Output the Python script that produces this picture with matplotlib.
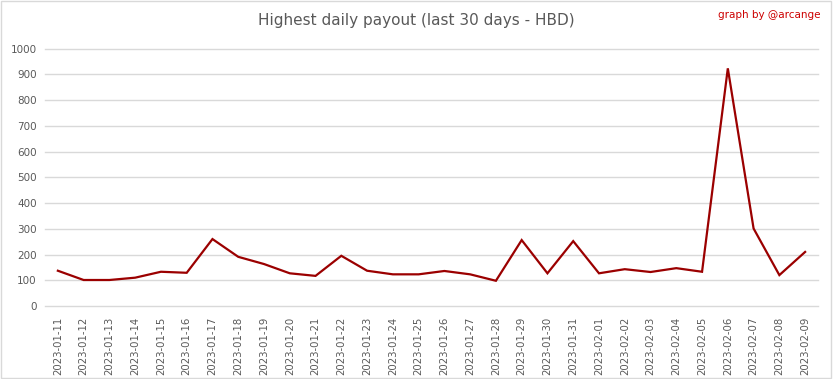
import matplotlib.pyplot as plt
from matplotlib.patches import Rectangle

# daily highest payout
dates = ['2023-01-11', '2023-01-12', '2023-01-13', '2023-01-14', '2023-01-15',
         '2023-01-16', '2023-01-17', '2023-01-18', '2023-01-19', '2023-01-20',
         '2023-01-21', '2023-01-22', '2023-01-23', '2023-01-24', '2023-01-25',
         '2023-01-26', '2023-01-27', '2023-01-28', '2023-01-29', '2023-01-30',
         '2023-01-31', '2023-02-01', '2023-02-02', '2023-02-03', '2023-02-04',
         '2023-02-05', '2023-02-06', '2023-02-07', '2023-02-08', '2023-02-09']
payout = [137, 101, 101, 110, 133, 129, 260, 191, 163, 127,
          117, 195, 137, 123, 123, 136, 123, 98, 256, 127,
          252, 127, 143, 132, 147, 133, 923, 301, 120, 210]
yticks = list(range(0, 1001, 100))

grey = '#595959'

fig = plt.figure(figsize=(8.33, 3.79), dpi=100)
ax = fig.add_axes([0.054, 0.1926, 0.928, 0.6794])

x = list(range(len(dates)))
ax.plot(x, payout, color='#9b0000', linewidth=1.6, solid_joinstyle='miter', zorder=3)

ax.set_xlim(-0.5, len(dates) - 0.5)
ax.set_ylim(0, 1000)
ax.set_yticks(yticks)
ax.set_yticklabels([str(v) for v in yticks], fontsize=7.5, color=grey)
ax.set_xticks(x)
ax.set_xticklabels(dates, rotation=90, fontsize=7.3, color=grey)
ax.tick_params(axis='both', length=0, pad=6)
ax.tick_params(axis='x', pad=8)

ax.grid(axis='y', color='#d9d9d9', linewidth=1)
for gl in ax.get_ygridlines():
    gl.set_clip_on(False)
ax.set_axisbelow(True)
for s in ax.spines.values():
    s.set_visible(False)

fig.text(0.5, 0.945, 'Highest daily payout (last 30 days - HBD)', ha='center', va='center',
         fontsize=11, color=grey)
fig.text(0.985, 0.96, 'graph by @arcange', ha='right', va='center', fontsize=7.5, color='#cc0000')

fig.patches.append(Rectangle((0.001, 0.002), 0.997, 0.995, transform=fig.transFigure,
                             fill=False, edgecolor='#d9d9d9', linewidth=1))

fig.savefig('out.png', dpi=100)
